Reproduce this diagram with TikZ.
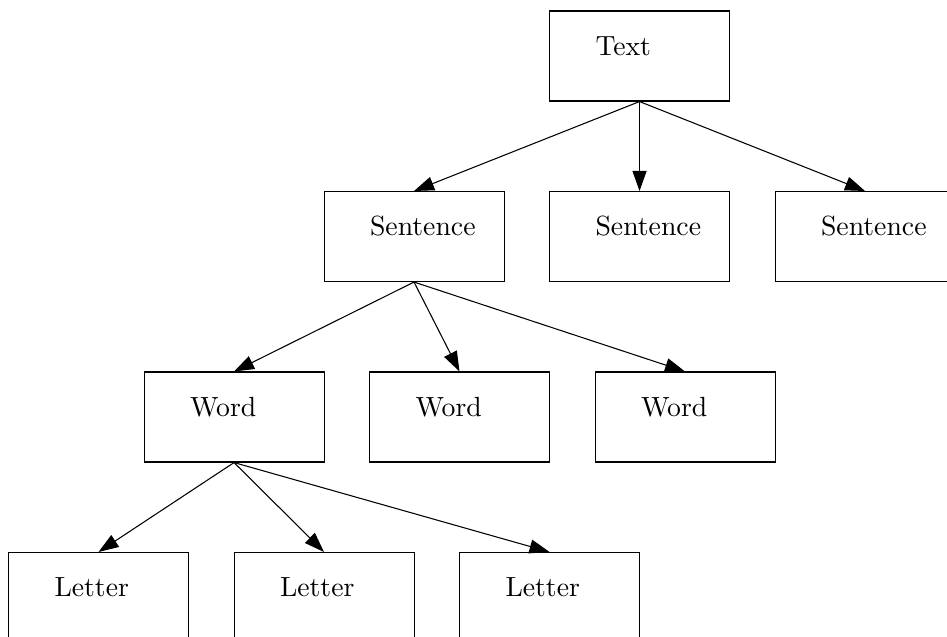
\documentclass[tikz,border=0pt]{standalone}
\usetikzlibrary{arrows.meta}

% one drawing unit = 0.375pt, y grows downwards
\tikzset{
  x=0.375pt, y=-0.375pt,
  unitbox/.style={draw, rectangle, anchor=north west, inner sep=0pt,
    minimum width=67.5pt, minimum height=33.75pt,
    label={[anchor=base west, inner sep=0pt, xshift=17.25pt, yshift=-16.7pt,
            font=\fontsize{10.4}{12}\selectfont]north west:#1}},
  link/.style={-{Triangle[length=7.5pt, width=5.25pt]}, line width=0.4pt},
}

\begin{document}
\begin{tikzpicture}
  \clip (0,0) rectangle (947,637);

  % top level
  \node[unitbox=Text] (text) at (549,10.5) {};

  % sentences
  \node[unitbox=Sentence] (s1) at (323.5,191) {};
  \node[unitbox=Sentence] (s2) at (549,191) {};
  \node[unitbox=Sentence] (s3) at (774.5,191) {};

  % words
  \node[unitbox=Word] (w1) at (143.5,371.5) {};
  \node[unitbox=Word] (w2) at (369,371.5) {};
  \node[unitbox=Word] (w3) at (594.5,371.5) {};

  % letters
  \node[unitbox=Letter] (l1) at (8,552) {};
  \node[unitbox=Letter] (l2) at (233.5,552) {};
  \node[unitbox=Letter] (l3) at (459,552) {};

  % tree edges
  \foreach \c in {s1,s2,s3} \draw[link] (text.south) -- (\c.north);
  \foreach \c in {w1,w2,w3} \draw[link] (s1.south) -- (\c.north);
  \foreach \c in {l1,l2,l3} \draw[link] (w1.south) -- (\c.north);
\end{tikzpicture}
\end{document}
